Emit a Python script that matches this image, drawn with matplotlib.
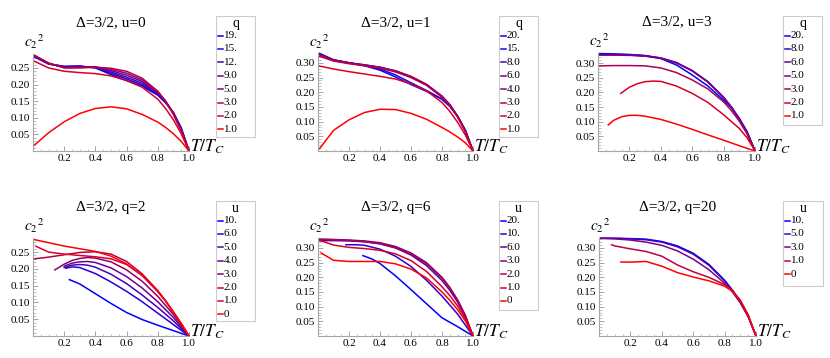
import matplotlib.pyplot as plt
from matplotlib.lines import Line2D
from matplotlib.patches import Rectangle
from matplotlib.ticker import MultipleLocator, FixedLocator

plt.rcParams['font.family'] = ['Liberation Serif', 'DejaVu Serif']
plt.rcParams['mathtext.fontset'] = 'stix'

W, H = 830, 358

# common temperature grid T/Tc
T = [0.01, 0.1, 0.2, 0.3, 0.4, 0.5, 0.6, 0.7, 0.8, 0.85, 0.9, 0.95, 1.0]

titles = ['Δ=3/2, u=0', 'Δ=3/2, u=1', 'Δ=3/2, u=3',
          'Δ=3/2, q=2', 'Δ=3/2, q=6', 'Δ=3/2, q=20']
legend_titles = ['q', 'q', 'q', 'u', 'u', 'u']

# --- panel 1: u=0, curves by q
labels1 = ['19.', '15.', '12.', '9.0', '5.0', '3.0', '2.0', '1.0']
x1 = [T] * 8
y1 = [
    [0.283, 0.262, 0.255, 0.256, 0.250, 0.230, 0.212, 0.195, 0.168, 0.145, 0.115, 0.070, 0.0],
    [0.284, 0.262, 0.254, 0.255, 0.251, 0.234, 0.217, 0.199, 0.171, 0.147, 0.115, 0.068, 0.0],
    [0.285, 0.263, 0.253, 0.254, 0.252, 0.238, 0.222, 0.204, 0.174, 0.149, 0.115, 0.066, 0.0],
    [0.286, 0.263, 0.252, 0.253, 0.253, 0.242, 0.228, 0.209, 0.176, 0.150, 0.114, 0.064, 0.0],
    [0.287, 0.264, 0.251, 0.252, 0.253, 0.246, 0.234, 0.214, 0.178, 0.150, 0.112, 0.062, 0.0],
    [0.288, 0.265, 0.250, 0.250, 0.252, 0.249, 0.240, 0.219, 0.180, 0.150, 0.110, 0.060, 0.0],
    [0.270, 0.250, 0.240, 0.236, 0.233, 0.226, 0.212, 0.192, 0.156, 0.128, 0.094, 0.052, 0.0],
    [0.018, 0.055, 0.088, 0.113, 0.128, 0.133, 0.127, 0.110, 0.087, 0.071, 0.052, 0.029, 0.0],
]

# --- panel 2: u=1
labels2 = ['20.', '15.', '8.0', '6.0', '4.0', '3.0', '2.0', '1.0']
x2 = [T] * 8
y2 = [
    [0.332, 0.310, 0.300, 0.290, 0.275, 0.252, 0.226, 0.203, 0.176, 0.152, 0.118, 0.072, 0.0],
    [0.331, 0.309, 0.299, 0.291, 0.279, 0.259, 0.232, 0.206, 0.177, 0.153, 0.118, 0.071, 0.0],
    [0.330, 0.310, 0.300, 0.293, 0.284, 0.271, 0.251, 0.224, 0.184, 0.157, 0.119, 0.070, 0.0],
    [0.329, 0.310, 0.300, 0.293, 0.285, 0.272, 0.253, 0.226, 0.186, 0.158, 0.119, 0.069, 0.0],
    [0.327, 0.309, 0.299, 0.292, 0.285, 0.273, 0.254, 0.227, 0.187, 0.158, 0.118, 0.068, 0.0],
    [0.322, 0.306, 0.297, 0.290, 0.282, 0.269, 0.250, 0.224, 0.184, 0.155, 0.116, 0.066, 0.0],
    [0.289, 0.279, 0.270, 0.262, 0.254, 0.245, 0.228, 0.205, 0.165, 0.135, 0.098, 0.055, 0.0],
    [0.008, 0.070, 0.106, 0.131, 0.142, 0.141, 0.128, 0.108, 0.080, 0.065, 0.048, 0.028, 0.0],
]

# --- panel 3: u=3
labels3 = ['20.', '8.0', '6.0', '5.0', '3.0', '2.0', '1.0']
x3 = [T, T, T, T, T,
      [0.145, 0.2, 0.25, 0.3, 0.35, 0.4, 0.5, 0.6, 0.7, 0.8, 0.9, 0.95, 1.0],
      [0.065, 0.1, 0.15, 0.2, 0.25, 0.3, 0.4, 0.5, 0.6, 0.7, 0.8, 0.9, 1.0]]
y3 = [
    [0.333, 0.332, 0.330, 0.326, 0.316, 0.294, 0.260, 0.222, 0.174, 0.148, 0.112, 0.066, 0.0],
    [0.330, 0.330, 0.329, 0.326, 0.318, 0.302, 0.274, 0.236, 0.183, 0.150, 0.110, 0.063, 0.0],
    [0.329, 0.329, 0.328, 0.325, 0.318, 0.302, 0.275, 0.237, 0.184, 0.150, 0.109, 0.062, 0.0],
    [0.328, 0.328, 0.327, 0.324, 0.317, 0.301, 0.274, 0.236, 0.183, 0.149, 0.108, 0.061, 0.0],
    [0.291, 0.292, 0.292, 0.291, 0.284, 0.268, 0.243, 0.212, 0.168, 0.138, 0.102, 0.058, 0.0],
    [0.197, 0.218, 0.230, 0.237, 0.239, 0.238, 0.222, 0.197, 0.166, 0.124, 0.077, 0.045, 0.0],
    [0.089, 0.105, 0.117, 0.122, 0.122, 0.119, 0.108, 0.092, 0.074, 0.055, 0.037, 0.018, 0.0],
]

# --- panel 4: q=2, curves by u
labels4 = ['10.', '6.0', '5.0', '4.0', '3.0', '2.0', '1.0', '0']
x4 = [[0.233, 0.3, 0.4, 0.5, 0.6, 0.7, 0.8, 0.9, 1.0],
      [0.21, 0.25, 0.3, 0.4, 0.5, 0.6, 0.7, 0.8, 0.9, 1.0],
      [0.2, 0.25, 0.3, 0.35, 0.4, 0.5, 0.6, 0.7, 0.8, 0.9, 1.0],
      [0.2, 0.25, 0.3, 0.35, 0.4, 0.5, 0.6, 0.7, 0.8, 0.9, 1.0],
      [0.14, 0.2, 0.25, 0.3, 0.35, 0.4, 0.5, 0.6, 0.7, 0.8, 0.9, 1.0],
      T,
      [0.02] + T[1:],
      T]
y4 = [
    [0.168, 0.155, 0.126, 0.097, 0.070, 0.049, 0.032, 0.016, 0.0],
    [0.202, 0.206, 0.204, 0.186, 0.161, 0.133, 0.102, 0.068, 0.034, 0.0],
    [0.204, 0.211, 0.213, 0.211, 0.205, 0.184, 0.156, 0.122, 0.085, 0.045, 0.0],
    [0.208, 0.217, 0.221, 0.222, 0.219, 0.203, 0.177, 0.143, 0.102, 0.055, 0.0],
    [0.197, 0.214, 0.225, 0.231, 0.234, 0.232, 0.221, 0.197, 0.163, 0.118, 0.064, 0.0],
    [0.230, 0.235, 0.242, 0.249, 0.251, 0.244, 0.222, 0.185, 0.135, 0.105, 0.071, 0.036, 0.0],
    [0.267, 0.250, 0.244, 0.240, 0.236, 0.230, 0.213, 0.180, 0.133, 0.104, 0.071, 0.037, 0.0],
    [0.287, 0.278, 0.268, 0.260, 0.252, 0.238, 0.215, 0.180, 0.132, 0.104, 0.072, 0.038, 0.0],
]

# --- panel 5: q=6
labels5 = ['20.', '10.', '6.0', '3.0', '2.0', '1.0', '0']
x5 = [[0.29, 0.35, 0.4, 0.5, 0.6, 0.7, 0.8, 0.9, 1.0],
      [0.18, 0.25, 0.3, 0.4, 0.5, 0.6, 0.7, 0.8, 0.9, 1.0],
      T, T, T, T,
      [0.02] + T[1:]]
y5 = [
    [0.274, 0.262, 0.247, 0.205, 0.158, 0.110, 0.062, 0.032, 0.0],
    [0.311, 0.311, 0.309, 0.296, 0.272, 0.237, 0.190, 0.136, 0.075, 0.0],
    [0.325, 0.325, 0.324, 0.321, 0.314, 0.300, 0.276, 0.240, 0.189, 0.156, 0.116, 0.066, 0.0],
    [0.330, 0.329, 0.327, 0.324, 0.318, 0.305, 0.283, 0.250, 0.200, 0.166, 0.124, 0.071, 0.0],
    [0.329, 0.328, 0.326, 0.322, 0.315, 0.301, 0.279, 0.246, 0.197, 0.163, 0.122, 0.070, 0.0],
    [0.326, 0.310, 0.302, 0.298, 0.292, 0.280, 0.257, 0.220, 0.168, 0.138, 0.103, 0.059, 0.0],
    [0.283, 0.258, 0.254, 0.254, 0.254, 0.246, 0.228, 0.198, 0.150, 0.122, 0.090, 0.052, 0.0],
]

# --- panel 6: q=20
labels6 = ['10.', '5.0', '3.0', '1.0', '0']
x6 = [T, T, T,
      [0.08, 0.1, 0.2, 0.3, 0.4, 0.5, 0.6, 0.7, 0.8, 0.85, 0.9, 0.95, 1.0],
      [0.14, 0.2, 0.3, 0.4, 0.5, 0.6, 0.7, 0.8, 0.85, 0.9, 0.95, 1.0]]
y6 = [
    [0.333, 0.333, 0.332, 0.330, 0.322, 0.307, 0.282, 0.244, 0.190, 0.156, 0.117, 0.068, 0.0],
    [0.333, 0.333, 0.331, 0.328, 0.320, 0.304, 0.279, 0.241, 0.188, 0.155, 0.116, 0.067, 0.0],
    [0.333, 0.331, 0.327, 0.320, 0.309, 0.290, 0.262, 0.226, 0.180, 0.150, 0.113, 0.066, 0.0],
    [0.311, 0.307, 0.297, 0.288, 0.272, 0.242, 0.219, 0.200, 0.175, 0.155, 0.122, 0.072, 0.0],
    [0.252, 0.252, 0.254, 0.238, 0.216, 0.201, 0.188, 0.170, 0.152, 0.121, 0.071, 0.0],
]

panels = [(labels1, x1, y1), (labels2, x2, y2), (labels3, x3, y3),
          (labels4, x4, y4), (labels5, x5, y5), (labels6, x6, y6)]

# layout in pixels: axis left, axis right, y=0 row, top row, ymax
geom = [(33, 189, 151, 54, 0.292), (318, 473, 151, 54, 0.33), (598, 755, 151, 53, 0.335),
        (33, 189, 336, 238, 0.292), (318, 473, 336, 238, 0.334), (599, 756, 336, 238, 0.334)]
legbox = [(216, 16, 255, 137), (499, 16, 538, 137), (783, 16, 822, 125),
          (216, 201, 255, 321), (499, 201, 538, 310), (783, 201, 823, 286)]

fig = plt.figure(figsize=(W / 100, H / 100), dpi=100)


def fx(px):
    return px / W


def fy(py):
    return 1 - py / H


for k, (labels, xs, ys) in enumerate(panels):
    left, right, y0, top, ymax = geom[k]
    ax = fig.add_axes([fx(left), fy(y0), (right - left) / W, (y0 - top) / H])
    n = len(labels)
    # blue (first legend entry) to red (last)
    cols = []
    for i in range(n):
        t = i / (n - 1)
        cols.append((t, 0.0, 1 - t))
    for i in range(n):
        ax.plot(xs[i], ys[i], color=cols[i], lw=1.1, clip_on=False)

    ax.set_xlim(0, 1.0)
    ax.set_ylim(0, ymax)
    for s in ['top', 'right']:
        ax.spines[s].set_visible(False)
    for s in ['left', 'bottom']:
        ax.spines[s].set_color('0.65')
        ax.spines[s].set_linewidth(0.8)
    ax.xaxis.set_major_locator(FixedLocator([0.2, 0.4, 0.6, 0.8, 1.0]))
    yt = [v / 100 for v in range(5, int(ymax * 100) + 1, 5)]
    ax.yaxis.set_major_locator(FixedLocator(yt))
    ax.set_xticklabels(['0.2', '0.4', '0.6', '0.8', '1.0'])
    ax.set_yticklabels(['%.2f' % v for v in yt])
    ax.xaxis.set_minor_locator(MultipleLocator(0.05))
    ax.yaxis.set_minor_locator(MultipleLocator(0.01))
    ax.tick_params(which='both', direction='in', color='0.65', labelsize=8, pad=2)
    ax.tick_params(which='major', length=3.5, width=0.7)
    ax.tick_params(which='minor', length=1.8, width=0.5)

    fig.text(fx((left + right) / 2), fy(top - 31), titles[k], ha='center', va='center', fontsize=11)
    fig.text(fx(left - 9), fy(top - 12), r'$c_2{}^2$', ha='left', va='center', fontsize=11)
    fig.text(fx(right + 1), fy(y0 - 4), r'$T/T_C$', ha='left', va='center', fontsize=12.5)

    # legend box
    bx0, by0, bx1, by1 = legbox[k]
    fig.add_artist(Rectangle((fx(bx0), fy(by1)), (bx1 - bx0) / W, (by1 - by0) / H,
                             transform=fig.transFigure, facecolor='white',
                             edgecolor='0.8', lw=0.8))
    fig.text(fx((bx0 + bx1) / 2), fy(by0 + 8), legend_titles[k], ha='center', va='center',
             fontsize=10)
    for i in range(n):
        yy = by0 + 19.5 + i * 13.4
        fig.add_artist(Line2D([fx(bx0 + 2), fx(bx0 + 7)], [fy(yy), fy(yy)],
                              transform=fig.transFigure, color=cols[i], lw=1.1))
        fig.text(fx(bx0 + 7.5), fy(yy), labels[i], ha='left', va='center', fontsize=8)

fig.savefig('out.png', dpi=100)
